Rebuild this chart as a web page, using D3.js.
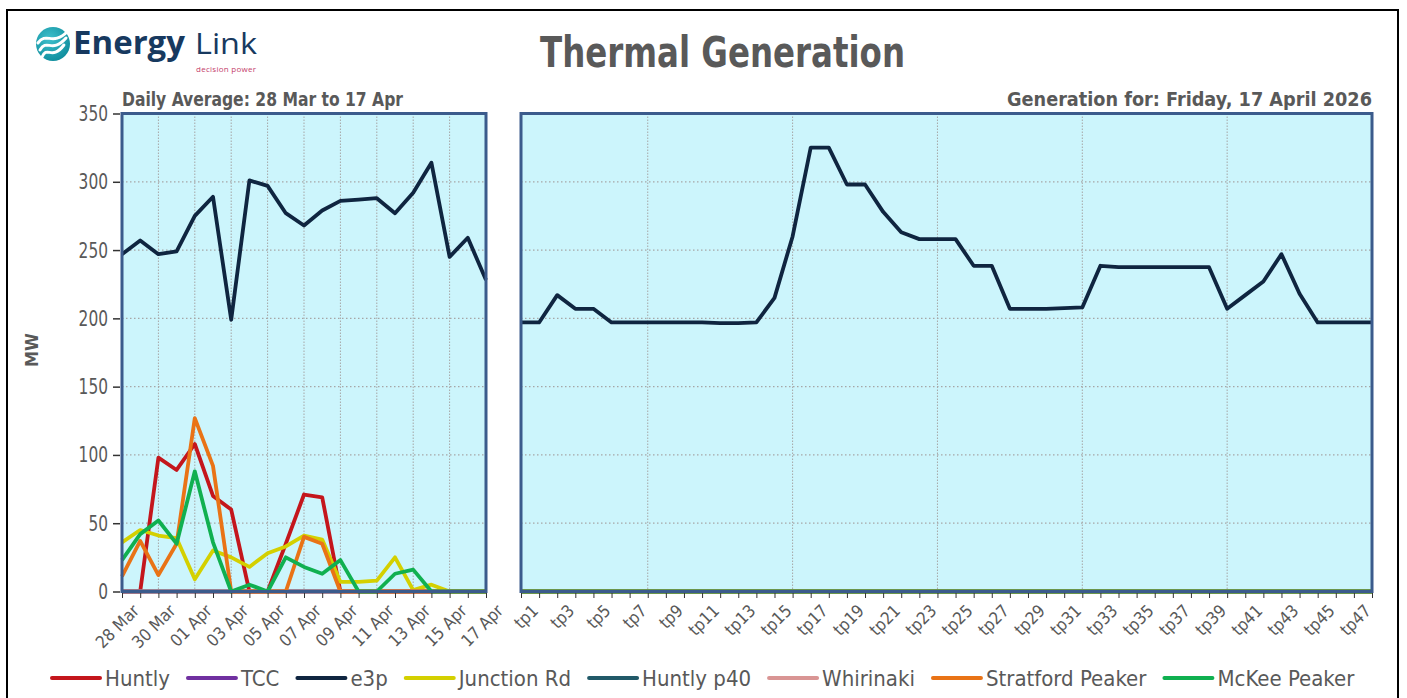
<!DOCTYPE html>
<html>
<head>
<meta charset="utf-8">
<script src="https://cdn.jsdelivr.net/npm/d3@7"></script>
<style>
  body { margin: 0; background: #fff; }
  svg text { font-family: "Liberation Sans Narrow", "DejaVu Sans Condensed", sans-serif; fill: #595959; }
</style>
</head>
<body>
<div id="chart"></div>
<script>
// Categories
const dates = ['28 Mar', '29 Mar', '30 Mar', '31 Mar', '01 Apr', '02 Apr', '03 Apr', '04 Apr', '05 Apr', '06 Apr',
  '07 Apr', '08 Apr', '09 Apr', '10 Apr', '11 Apr', '12 Apr', '13 Apr', '14 Apr', '15 Apr', '16 Apr', '17 Apr'];
const periods = ['tp1', 'tp2', 'tp3', 'tp4', 'tp5', 'tp6', 'tp7', 'tp8', 'tp9', 'tp10', 'tp11', 'tp12',
  'tp13', 'tp14', 'tp15', 'tp16', 'tp17', 'tp18', 'tp19', 'tp20', 'tp21', 'tp22', 'tp23', 'tp24',
  'tp25', 'tp26', 'tp27', 'tp28', 'tp29', 'tp30', 'tp31', 'tp32', 'tp33', 'tp34', 'tp35', 'tp36',
  'tp37', 'tp38', 'tp39', 'tp40', 'tp41', 'tp42', 'tp43', 'tp44', 'tp45', 'tp46', 'tp47', 'tp48'];
const yTicks = [0, 50, 100, 150, 200, 250, 300, 350];

// Daily averages (MW)
const huntlyDaily    = [0, 0, 98, 89, 108, 70, 60, 0, 0, 35, 71, 69, 0, 0, 0, 0, 0, 0, 0, 0, 0];
const tccDaily       = [0, 0, 0, 0, 0, 0, 0, 0, 0, 0, 0, 0, 0, 0, 0, 0, 0, 0, 0, 0, 0];
const e3pDaily       = [247, 257, 247, 249, 275, 289, 199, 301, 297, 277, 268, 279, 286, 287, 288, 277, 292, 314, 245, 259, 228];
const junctionDaily  = [36, 45, 41, 39, 9, 30, 25, 18, 28, 33, 41, 38, 7, 7, 8, 25, 1, 5, 0, 0, 0];
const huntlyP40Daily = [0, 0, 0, 0, 0, 0, 0, 0, 0, 0, 0, 0, 0, 0, 0, 0, 0, 0, 0, 0, 0];
const whirinakiDaily = [0, 0, 0, 0, 0, 0, 0, 0, 0, 0, 0, 0, 0, 0, 0, 0, 0, 0, 0, 0, 0];
const stratfordDaily = [11, 37, 12, 35, 127, 92, 0, 0, 0, 0, 40, 35, 0, 0, 0, 0, 0, 0, 0, 0, 0];
const mckeeDaily     = [23, 42, 52, 35, 88, 36, 0, 5, 0, 25, 18, 13, 23, 0, 0, 13, 16, 0, 0, 0, 0];

// Trading periods for 17 April (MW)
const e3pToday = [197, 197, 217, 207, 207, 197, 197, 197, 197, 197, 197, 196.5, 196.5, 197, 215, 260,
  325, 325, 298, 298, 278, 263, 258, 258, 258, 238.5, 238.5, 207, 207, 207, 207.5, 208,
  238.5, 237.5, 237.5, 237.5, 237.5, 237.5, 237.5, 207, 217, 227, 247, 218, 197, 197, 197, 197];
const zeroToday = [0, 0, 0, 0, 0, 0, 0, 0, 0, 0, 0, 0, 0, 0, 0, 0, 0, 0, 0, 0, 0, 0, 0, 0,
  0, 0, 0, 0, 0, 0, 0, 0, 0, 0, 0, 0, 0, 0, 0, 0, 0, 0, 0, 0, 0, 0, 0, 0];

const seriesNames  = ['Huntly', 'TCC', 'e3p', 'Junction Rd', 'Huntly p40', 'Whirinaki', 'Stratford Peaker', 'McKee Peaker'];
const seriesColors = ['#c4161c', '#7030a0', '#0f2540', '#d4d000', '#215968', '#d99594', '#e97316', '#10b050'];
const dailySeries  = [huntlyDaily, tccDaily, e3pDaily, junctionDaily, huntlyP40Daily, whirinakiDaily, stratfordDaily, mckeeDaily];
const todaySeries  = [zeroToday, zeroToday, e3pToday, zeroToday, zeroToday, zeroToday, zeroToday, zeroToday];

const W = 1407, H = 698;
const yTop = 113.5, yBottom = 591.5;

const svg = d3.select('#chart').append('svg')
  .attr('width', W)
  .attr('height', H);

// Outer border
svg.append('rect')
  .attr('x', 7).attr('y', 10)
  .attr('width', 1391).attr('height', 700)
  .attr('fill', 'none').attr('stroke', '#000').attr('stroke-width', 2);

// Scales
const yScale = d3.scaleLinear().domain([0, 350]).range([yBottom, yTop]);
const xLeft = d3.scalePoint().domain(dates).range([122, 486]);
const xRight = d3.scalePoint().domain(periods).range([521, 1372]);

function drawPanel(xScale, cats, gridCats, series, labelEvery) {
  const x0 = xScale.range()[0], x1 = xScale.range()[1];
  const g = svg.append('g');

  g.append('rect')
    .attr('x', x0).attr('y', yTop)
    .attr('width', x1 - x0).attr('height', yBottom - yTop)
    .attr('fill', '#ccf5fc');

  // Horizontal gridlines
  g.selectAll('.hgrid')
    .data(yTicks.filter((d) => d > 0 && d < 350))
    .enter().append('line')
    .attr('x1', x0).attr('x2', x1)
    .attr('y1', (d) => yScale(d)).attr('y2', (d) => yScale(d))
    .attr('stroke', '#a6a6a6').attr('stroke-width', 1.2)
    .attr('stroke-dasharray', '1.5,2.5');

  // Vertical gridlines
  g.selectAll('.vgrid')
    .data(gridCats)
    .enter().append('line')
    .attr('x1', (d) => xScale(d)).attr('x2', (d) => xScale(d))
    .attr('y1', yTop).attr('y2', yBottom)
    .attr('stroke', '#a6a6a6').attr('stroke-width', 1)
    .attr('stroke-dasharray', '1.5,1.5');

  // Lines
  const line = d3.line()
    .x((d, i) => xScale(cats[i]))
    .y((d) => yScale(d));

  series.forEach((vals, k) => {
    g.append('path')
      .datum(vals)
      .attr('d', line)
      .attr('fill', 'none')
      .attr('stroke', seriesColors[k])
      .attr('stroke-width', 3.8)
      .attr('stroke-linejoin', 'round');
  });

  // Frame
  g.append('rect')
    .attr('x', x0).attr('y', yTop)
    .attr('width', x1 - x0).attr('height', yBottom - yTop)
    .attr('fill', 'none')
    .attr('stroke', '#3b5b8c').attr('stroke-width', 3);

  // X axis
  const axis = d3.axisBottom(xScale)
    .tickSize(5)
    .tickPadding(4)
    .tickFormat((d, i) => (i % labelEvery === 0 ? d : ''));

  const ax = g.append('g')
    .attr('transform', `translate(0, ${yBottom + 1.5})`)
    .call(axis);
  ax.select('.domain').remove();
  ax.selectAll('.tick line').attr('stroke', '#333');
  ax.selectAll('.tick text')
    .attr('font-size', 17)
    .attr('text-anchor', 'end')
    .attr('transform', 'translate(3, 4) rotate(-45)')
    .attr('dy', '0.7em')
    .attr('dx', '0');
  return g;
}

drawPanel(xLeft, dates, dates.filter((d, i) => i % 2 === 0 && i > 0), dailySeries, 2);
drawPanel(xRight, periods, periods.filter((d, i) => (i + 1) % 8 === 0 && i < 47), todaySeries, 2);

// Y axis (left panel only)
const yAx = svg.append('g')
  .attr('transform', `translate(120, 0)`)
  .call(d3.axisLeft(yScale).tickValues(yTicks).tickSize(7).tickPadding(5));
yAx.select('.domain').remove();
yAx.selectAll('.tick line').attr('stroke', '#333').attr('stroke-width', 1.5);
yAx.selectAll('.tick text')
  .attr('font-size', 22)
  .attr('textLength', (d) => String(d).length * 9.8)
  .attr('lengthAdjust', 'spacingAndGlyphs');

// Axis title
svg.append('text')
  .attr('transform', 'translate(38, 350) rotate(-90)')
  .attr('text-anchor', 'middle')
  .attr('font-size', 18)
  .attr('font-weight', 'bold')
  .text('MW');

// Titles
svg.append('text')
  .attr('x', 540).attr('y', 67)
  .attr('font-size', 42)
  .attr('font-weight', 'bold')
  .attr('textLength', 365)
  .attr('lengthAdjust', 'spacingAndGlyphs')
  .text('Thermal Generation');

svg.append('text')
  .attr('x', 122).attr('y', 106)
  .attr('font-size', 19.5)
  .attr('font-weight', 'bold')
  .attr('textLength', 281)
  .attr('lengthAdjust', 'spacingAndGlyphs')
  .text('Daily Average: 28 Mar to 17 Apr');

svg.append('text')
  .attr('x', 1007).attr('y', 106)
  .attr('font-size', 19.5)
  .attr('font-weight', 'bold')
  .attr('textLength', 365)
  .attr('lengthAdjust', 'spacingAndGlyphs')
  .text('Generation for: Friday, 17 April 2026');

// Logo
const logo = svg.append('g');
const grad = svg.append('defs').append('radialGradient')
  .attr('id', 'logoGrad').attr('cx', '40%').attr('cy', '35%').attr('r', '70%');
grad.append('stop').attr('offset', '0%').attr('stop-color', '#3fc0cc');
grad.append('stop').attr('offset', '100%').attr('stop-color', '#0e8c9c');
logo.append('circle')
  .attr('cx', 53).attr('cy', 44).attr('r', 17)
  .attr('fill', 'url(#logoGrad)');
[-7, 0, 7].forEach((o) => {
  logo.append('path')
    .attr('d', `M${40 + o * 0.3},${50 + o} C${47},${38 + o} ${52},${54 + o} ${66 - o * 0.3},${38 + o}`)
    .attr('fill', 'none').attr('stroke', '#fff').attr('stroke-width', 3).attr('stroke-linecap', 'round');
});
logo.append('text')
  .attr('x', 73).attr('y', 54)
  .style('font-family', '"Open Sans", sans-serif')
  .style('fill', '#17395f')
  .attr('font-size', 32)
  .attr('font-weight', 'bold')
  .attr('textLength', 112)
  .attr('lengthAdjust', 'spacingAndGlyphs')
  .text('Energy');
logo.append('text')
  .attr('x', 195).attr('y', 54)
  .style('font-family', '"Open Sans", sans-serif')
  .style('fill', '#17395f')
  .attr('font-size', 30)
  .attr('textLength', 62)
  .attr('lengthAdjust', 'spacingAndGlyphs')
  .text('Link');
logo.append('text')
  .attr('x', 196).attr('y', 72)
  .style('font-family', '"Open Sans", sans-serif')
  .style('fill', '#c43d6b')
  .attr('font-size', 8)
  .attr('textLength', 60)
  .text('decision power');

// Legend
const legend = svg.append('g').attr('transform', 'translate(0, 678)');
let lx = 52;
seriesNames.forEach((name, k) => {
  legend.append('line')
    .attr('x1', lx).attr('x2', lx + 48)
    .attr('y1', 0).attr('y2', 0)
    .attr('stroke', seriesColors[k])
    .attr('stroke-width', 4)
    .attr('stroke-linecap', 'round');
  const t = legend.append('text')
    .attr('x', lx + 53).attr('y', 0)
    .attr('dy', '0.35em')
    .attr('font-size', 22)
    .text(name);
  lx += 53 + t.node().getComputedTextLength() + 18;
});
</script>
</body>
</html>
